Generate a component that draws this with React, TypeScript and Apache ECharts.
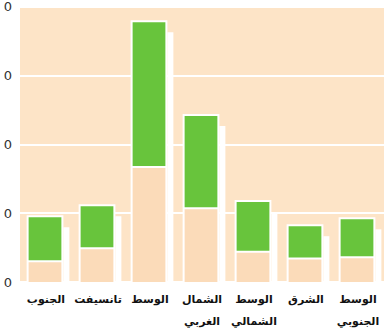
import React, { useEffect, useRef } from "react";
import * as echarts from "echarts";

const categories = [
  "الجنوب",
  "تانسيفت",
  "الوسط",
  "الشمال\nالغربي",
  "الوسط\nالشمالي",
  "الشرق",
  "الوسط\nالجنوبي",
];
// bottom of green box (top of the lower pale segment)
const lowValues = [3.0, 4.9, 16.7, 10.7, 4.4, 3.4, 3.6];
// top of green box
const highValues = [9.4, 11.0, 37.7, 24.1, 11.6, 8.1, 9.1];
// visible (cropped) tick labels for 0,10,20,30,40
const yTickLabels = ["0", "0", "0", "0", "0"];

export default function App() {
  const ref = useRef<HTMLDivElement>(null);
  useEffect(() => {
    if (!ref.current) return;
    const chart = echarts.init(ref.current, undefined, { renderer: "svg" });
    const data = categories.map((_, i) => [i, lowValues[i], highValues[i]]);
    chart.setOption({
      animation: false,
      backgroundColor: "#ffffff",
      grid: {
        left: 20,
        right: 0,
        top: 6,
        bottom: 44,
        show: true,
        backgroundColor: "#fde4c7",
        borderWidth: 0,
      },
      xAxis: {
        type: "category",
        data: categories,
        axisLine: { show: false },
        axisTick: { show: false },
        axisLabel: {
          color: "#111",
          fontFamily: "DejaVu Sans",
          fontWeight: "bold",
          fontSize: 11,
          lineHeight: 22,
          margin: 6,
          interval: 0,
        },
      },
      yAxis: {
        type: "value",
        min: 0,
        max: 40,
        interval: 10,
        axisLine: { show: false },
        axisTick: { show: false },
        splitLine: { lineStyle: { color: "#ffffff", width: 2 } },
        axisLabel: {
          color: "#333",
          fontFamily: "DejaVu Sans",
          fontSize: 13,
          margin: 8,
          formatter: (v: number) => yTickLabels[Math.round(v / 10)] ?? "",
        },
      },
      series: [
        {
          type: "custom",
          data,
          encode: { x: 0, y: [1, 2] },
          renderItem: (params: any, api: any) => {
            const i = api.value(0);
            const low = api.value(1);
            const high = api.value(2);
            const base = api.coord([i, 0]);
            const pLow = api.coord([i, low]);
            const pHigh = api.coord([i, high]);
            const band = api.size([1, 0])[0];
            const w = band * 0.63;
            const x0 = base[0] - w / 2 - 1;
            const yb = base[1];
            return {
              type: "group",
              children: [
                {
                  type: "rect",
                  shape: { x: x0 - 2, y: pHigh[1] - 2, width: w + 4, height: yb - pHigh[1] + 2 },
                  style: { fill: "#ffffff" },
                },
                {
                  type: "rect",
                  shape: { x: x0 + w + 2, y: pHigh[1] + 10, width: 6, height: yb - pHigh[1] - 10 },
                  style: { fill: "#ffffff" },
                },
                {
                  type: "rect",
                  shape: { x: x0, y: pLow[1] + 1, width: w, height: yb - pLow[1] - 1 },
                  style: { fill: "#fbdbb9" },
                },
                {
                  type: "rect",
                  shape: { x: x0, y: pHigh[1], width: w, height: pLow[1] - pHigh[1] - 1 },
                  style: { fill: "#68c43c" },
                },
              ],
            };
          },
        },
      ],
    });
    return () => chart.dispose();
  }, []);
  return (
    <div
      ref={ref}
      style={{ position: "fixed", left: 0, top: 0, width: 384, height: 332 }}
    />
  );
}
